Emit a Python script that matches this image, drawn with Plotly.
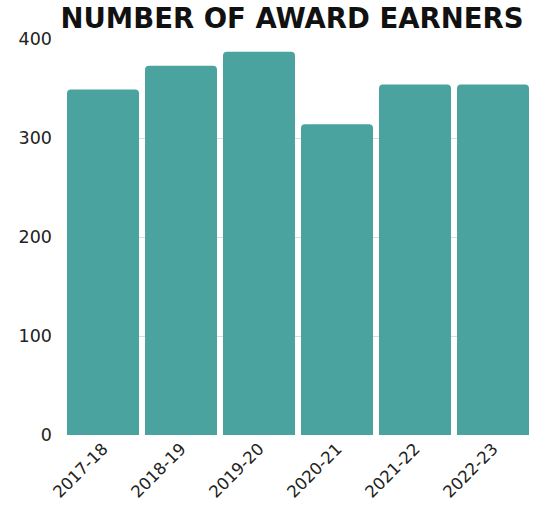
import plotly.graph_objects as go

categories = ["2017-18", "2018-19", "2019-20", "2020-21", "2021-22", "2022-23"]
earners = [349, 373, 387, 314, 354, 354]
y_ticks = [0, 100, 200, 300, 400]

bar_color = "#4aa39f"
gap = 0.077

fig = go.Figure(
    go.Bar(
        x=categories,
        y=earners,
        marker=dict(color=bar_color, line=dict(width=0), cornerradius=4),
        hoverinfo="x+y",
    )
)

W, H = 537, 507
fig.update_layout(
    width=W,
    height=H,
    margin=dict(l=67, r=8, t=39, b=72, autoexpand=False),
    paper_bgcolor="white",
    plot_bgcolor="white",
    bargap=gap,
    showlegend=False,
    title=dict(
        text="<b>NUMBER OF AWARD EARNERS</b>",
        font=dict(family="DejaVu Sans", size=27.5, color="#111111"),
        xref="paper",
        x=0.487,
        xanchor="center",
        yref="container",
        y=1 - 18.5 / H,
        yanchor="middle",
    ),
    xaxis=dict(
        type="category",
        range=[-0.5 + gap / 2, len(categories) - 0.5 - gap / 2],
        tickangle=-45,
        tickfont=dict(family="DejaVu Sans", size=16.5, color="#222222"),
        showgrid=False,
        showline=False,
        zeroline=False,
        ticks="",
        automargin=False,
    ),
    yaxis=dict(
        range=[0, 400],
        tickvals=y_ticks,
        tickfont=dict(family="DejaVu Sans", size=17.5, color="#222222"),
        showgrid=True,
        gridcolor="#dddddd",
        gridwidth=1,
        zeroline=False,
        showline=False,
        ticks="",
        ticklabelstandoff=14,
        automargin=False,
    ),
)

# remove the default page margin so the figure sits at the window's corner
fig.write_html(
    "out.html",
    config={"displayModeBar": False},
    post_script="document.body.style.margin='0';",
)
